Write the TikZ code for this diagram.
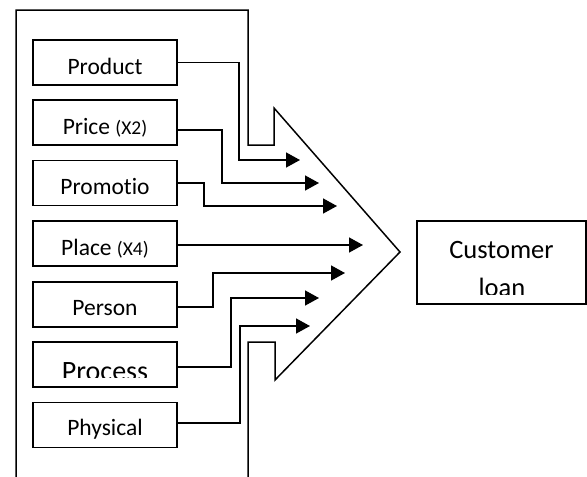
\documentclass[tikz,border=0pt]{standalone}
\usepackage{fontspec}
\setmainfont{Carlito}[Ligatures=NoCommon]
\usetikzlibrary{arrows.meta}
\tikzset{
  x=1pt, y=-1pt,
  box/.style={draw, line width=1.5pt, minimum width=144pt, minimum height=45pt, inner sep=0pt},
  lbl/.style={anchor=base, inner sep=0pt, font=\fontsize{23.5}{28}\selectfont},
  conn/.style={line width=1.5pt, -{Triangle[length=14pt,width=15pt]}},
  outline/.style={line width=1.5pt, line join=miter}
}
\begin{document}
\begin{tikzpicture}
\useasboundingbox (0,0) rectangle (587,477);
% big arrow outline
\draw[outline] (16,477) -- (16,10) -- (248,10) -- (248,145) -- (274,145) -- (274,108)
  -- (400,252) -- (275,380) -- (275,342) -- (248,342) -- (248,477);
% boxes
\node[box] (prod)   at (105,62.5) {};
\node[box] (price)  at (105,122.5) {};
\node[box] (promo)  at (105,183) {};
\node[box] (place)  at (105,243.5) {};
\node[box] (person) at (105,304.5) {};
\node[box] (proc)   at (105,364.5) {};
\node[box] (phys)   at (105,425) {};
\node[draw, line width=1.5pt, minimum width=169pt, minimum height=83pt, inner sep=0pt] (cust) at (501.5,262.5) {};
% labels
\node[lbl] (prodT)   at (105,74)  {Product};
\node[lbl] (priceT)  at (105,134) {Price {\fontsize{19.5}{24}\selectfont(X2)}};
\node[lbl] (promoT)  at (105,194) {Promotio};
\node[lbl] (placeT)  at (105,255) {Place {\fontsize{19.5}{24}\selectfont(X4)}};
\node[lbl] (personT) at (105,315) {Person};
\node[lbl] (physT)   at (105,435) {Physical};
\begin{scope}
  \clip (33,342) rectangle (177,377);
  \node[lbl, font=\fontsize{28}{32}\selectfont] (procT) at (105,380.5) {Process};
\end{scope}
\node[lbl, font=\fontsize{26.5}{30}\selectfont] (custT) at (501.5,258) {Customer};
\begin{scope}
  \clip (417,265) rectangle (586,294);
  \node[lbl, font=\fontsize{26.5}{30}\selectfont] (loanT) at (502,296) {loan};
\end{scope}
% arrow tips
\coordinate (tProd)   at (300,160);
\coordinate (tPrice)  at (319,183);
\coordinate (tPromo)  at (337,206);
\coordinate (tPlace)  at (363,245);
\coordinate (tPerson) at (345,273);
\coordinate (tProc)   at (319,298);
\coordinate (tPhys)   at (310,326);
% connectors
\draw[conn] (prod.east) -- ++(61,0) |- (tProd);
\draw[conn] ([yshift=-7.5pt]price.east) -- ++(44,0) |- (tPrice);
\draw[conn] (promo.east) -- ++(26,0) |- (tPromo);
\draw[conn] ([yshift=-1.5pt]place.east) -- (tPlace);
\draw[conn] ([yshift=-2.5pt]person.east) -- ++(35,0) |- (tPerson);
\draw[conn] ([yshift=-2.5pt]proc.east) -- ++(53,0) |- (tProc);
\draw[conn] ([yshift=2pt]phys.east) -- ++(62,0) |- (tPhys);
\end{tikzpicture}
\end{document}
